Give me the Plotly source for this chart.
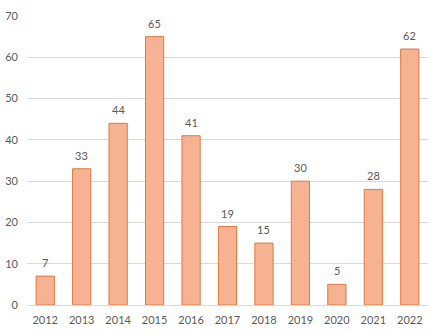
import plotly.graph_objects as go

years = ["2012", "2013", "2014", "2015", "2016", "2017", "2018", "2019", "2020", "2021", "2022"]
counts = [7, 33, 44, 65, 41, 19, 15, 30, 5, 28, 62]
y_ticks = [0, 10, 20, 30, 40, 50, 60, 70]

fig = go.Figure(
    go.Bar(
        x=years,
        y=counts,
        marker=dict(color="#F7B193", line=dict(color="#E0793D", width=1)),
        width=0.5,
    )
)

# value labels sitting a little above each bar (category index positions)
for i, v in enumerate(counts):
    fig.add_annotation(
        x=i, y=v, text=str(v), showarrow=False,
        yanchor="bottom", yshift=5,
        font=dict(size=11, color="#595959"),
    )

fig.update_layout(
    width=430,
    height=334,
    margin=dict(l=27, r=2, t=16, b=29),
    plot_bgcolor="white",
    paper_bgcolor="white",
    font=dict(family="Lato, Liberation Sans, sans-serif", size=11, color="#595959"),
    showlegend=False,
    bargap=0.5,
)
fig.update_xaxes(
    type="category",
    range=[-0.5, len(years) - 0.5],
    showgrid=False,
    showline=True,
    linecolor="#D9D9D9",
    linewidth=1,
    ticks="",
    ticklen=0,
    ticklabelstandoff=5,
    tickfont=dict(size=11, color="#595959"),
)
fig.update_yaxes(
    range=[0, 70],
    tickvals=y_ticks,
    showgrid=True,
    gridcolor="#D9D9D9",
    gridwidth=1,
    zeroline=False,
    showline=False,
    ticks="",
    ticklabelstandoff=8,
    tickfont=dict(size=11, color="#595959"),
)

fig.write_html("out.html")
